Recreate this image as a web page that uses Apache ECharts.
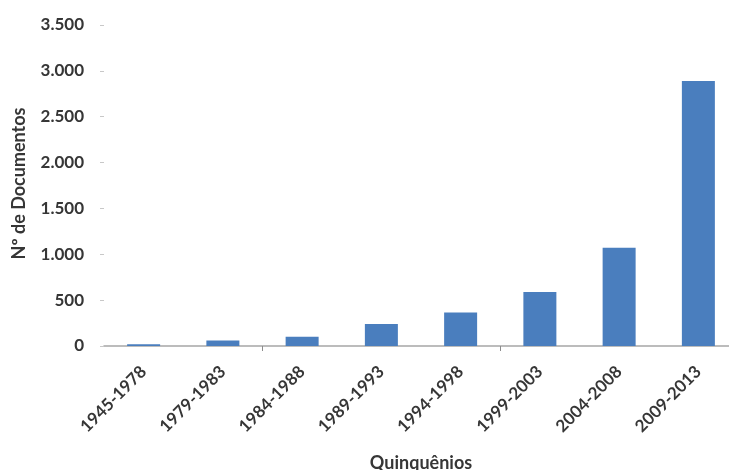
<!DOCTYPE html>
<html>
<head>
<meta charset="utf-8">
<script src="https://cdn.jsdelivr.net/npm/echarts@6/dist/echarts.min.js"></script>
<style>
  html, body { margin: 0; padding: 0; background: #fff; }
  #chart { width: 729px; height: 470px; }
</style>
</head>
<body>
<div id="chart"></div>
<script>
// Documents published per five-year period
const categories = ['1945-1978', '1979-1983', '1984-1988', '1989-1993', '1994-1998', '1999-2003', '2004-2008', '2009-2013'];
const documentCounts = [20, 60, 100, 240, 365, 590, 1070, 2890];
const yTicks = [0, 500, 1000, 1500, 2000, 2500, 3000, 3500];

const textColor = '#363636';
const fontFamily = 'Lato, "Open Sans", sans-serif';

function formatThousands(v) {
  return String(v).replace(/\B(?=(\d{3})+(?!\d))/g, '.');
}

const chart = echarts.init(document.getElementById('chart'));
chart.setOption({
  animation: false,
  grid: {
    left: 104, right: -9, top: 25, bottom: 124,
    containLabel: false,
    outerBoundsMode: 'none'
  },
  xAxis: {
    type: 'category',
    data: categories,
    name: 'Quinquênios',
    nameLocation: 'middle',
    nameGap: 108,
    nameTextStyle: { color: textColor, fontFamily, fontWeight: 'bold', fontSize: 18 },
    axisLine: { lineStyle: { color: '#a6a6a6', width: 1.5 } },
    axisTick: {
      show: true,
      length: 5,
      lineStyle: { color: '#8c8c8c' },
      interval: (index) => index === 2 || index === 5
    },
    axisLabel: {
      rotate: 45,
      margin: 23,
      interval: 0,
      color: textColor,
      fontFamily,
      fontWeight: 'bold',
      fontSize: 17
    }
  },
  yAxis: {
    type: 'value',
    min: yTicks[0],
    max: yTicks[yTicks.length - 1],
    interval: yTicks[1] - yTicks[0],
    name: 'Nº de Documentos',
    nameLocation: 'middle',
    nameGap: 76,
    nameTextStyle: { color: textColor, fontFamily, fontWeight: 'bold', fontSize: 18, padding: [0, 0, 0, 4] },
    axisLine: { show: false },
    axisTick: { show: true, length: 4, lineStyle: { color: '#c8c8c8' } },
    splitLine: { show: false },
    axisLabel: {
      margin: 20,
      color: textColor,
      fontFamily,
      fontWeight: 'bold',
      fontSize: 17,
      formatter: formatThousands
    }
  },
  series: [{
    type: 'bar',
    data: documentCounts,
    barWidth: 33,
    itemStyle: { color: '#4a7ebe' }
  }]
});
</script>
</body>
</html>
